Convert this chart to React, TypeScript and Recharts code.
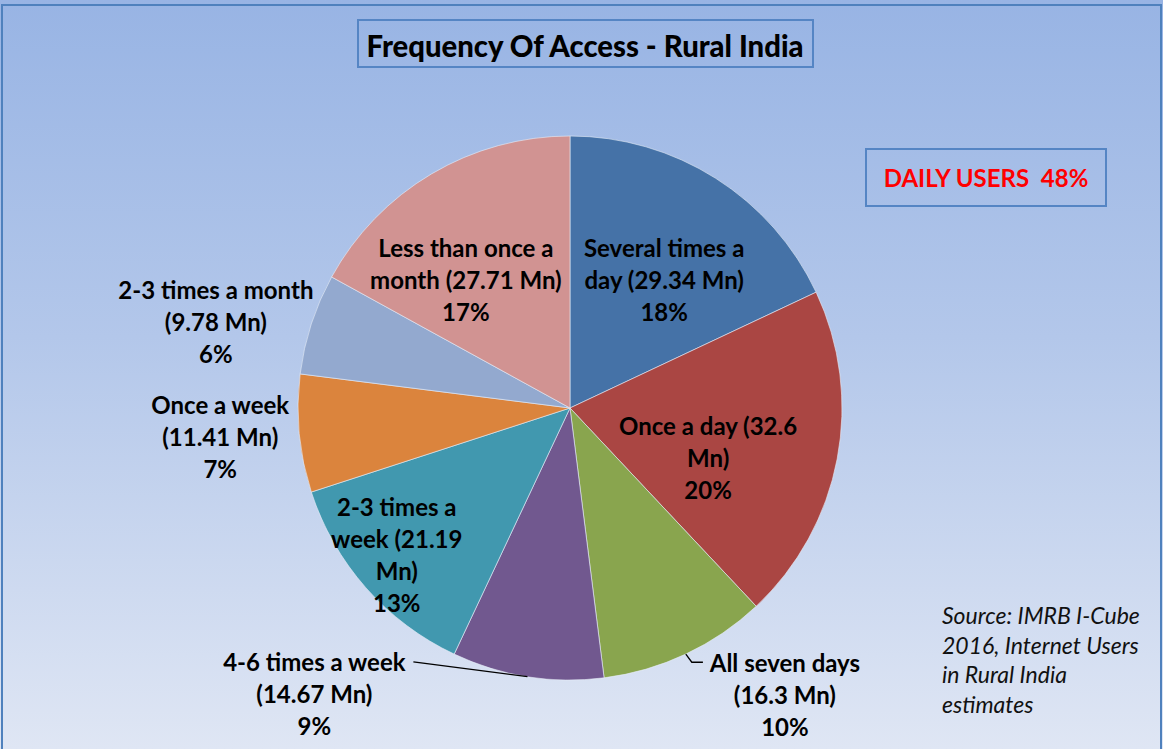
import { PieChart, Pie, Cell } from 'recharts'

// Frequency of internet access, rural India (millions of users)
const categories = [
  'Several times a day',
  'Once a day',
  'All seven days',
  '4-6 times a week',
  '2-3 times a week',
  'Once a week',
  '2-3 times a month',
  'Less than once a month',
]
const usersMn = [29.34, 32.6, 16.3, 14.67, 21.19, 11.41, 9.78, 27.71]
const labelText = [
  ['Several times a', 'day (29.34 Mn)'],
  ['Once a day (32.6', 'Mn)'],
  ['All seven days', '(16.3 Mn)'],
  ['4-6 times a week', '(14.67 Mn)'],
  ['2-3 times a', 'week (21.19', 'Mn)'],
  ['Once a week', '(11.41 Mn)'],
  ['2-3 times a month', '(9.78 Mn)'],
  ['Less than once a', 'month (27.71 Mn)'],
]
const colors = ['#4572a7', '#aa4643', '#89a54e', '#71588f', '#4198af', '#db843d', '#93a9cf', '#d19392']

// label placement (fraction of radius, angle shift in degrees), leader line end offset
const labelRadius = [0.585, 0.54, 1.316, 1.41, 0.835, 1.29, 1.34, 0.607]
const labelShift = [-3.9, -9.1, 11.7, -32.8, -1.1, -0.8, 4.3, 8.5]
const leaderEnd = [0, 0, -82, 99, 0, 0, 0, 0]

const data = categories.map((name, i) => ({ name, value: usersMn[i] }))
const FONT = "Lato, 'Open Sans', sans-serif"
const RAD = Math.PI / 180

function renderLabel(props: any) {
  const { cx, cy, midAngle, outerRadius, index, percent } = props
  const a = (midAngle + labelShift[index]) * RAD
  const r = outerRadius * labelRadius[index]
  const x = cx + r * Math.cos(-a)
  const y = cy + r * Math.sin(-a)
  const lines = [...labelText[index], `${Math.round(percent * 100)}%`]
  const lh = 32
  const y0 = y - ((lines.length - 1) / 2) * lh
  let leader = null
  if (leaderEnd[index] !== 0) {
    const ex = cx + outerRadius * Math.cos(-midAngle * RAD)
    const ey = cy + outerRadius * Math.sin(-midAngle * RAD)
    const tx = x + leaderEnd[index]
    const d = index === 2
      ? `M${ex},${ey} L${ex + 6},${y0} L${tx},${y0}`
      : `M${ex},${ey} L${tx},${y0}`
    leader = <path d={d} fill="none" stroke="#000" strokeWidth={1.3} />
  }
  return (
    <g>
      {leader}
      <text textAnchor="middle" fontFamily={FONT} fontWeight={700} fontSize={24} fill="#000">
        {lines.map((ln, i) => (
          <tspan key={i} x={x} y={y0 + i * lh} dominantBaseline="central">{ln}</tspan>
        ))}
      </text>
    </g>
  )
}

export default function App() {
  return (
    <div style={{
      position: 'absolute', left: 0, top: 0, width: 1163, height: 749, overflow: 'hidden',
      background: 'linear-gradient(to bottom, #98b4e4 0%, #b3c7ea 45%, #dfe6f4 100%)',
    }}>
      <div style={{
        position: 'absolute', left: 1, top: 4, width: 1157, height: 760,
        border: '2px solid #4f81bd',
      }} />
      <div style={{
        position: 'absolute', left: 357, top: 19, width: 453, height: 45,
        border: '2px solid #5585c4',
      }} />
      <svg width={700} height={60} style={{ position: 'absolute', left: 235, top: 15, overflow: 'visible' }}>
        <text x={350} y={30} textAnchor="middle" dominantBaseline="central"
          fontFamily={FONT} fontWeight={900} fontSize={30} fill="#000"
          textLength={437} lengthAdjust="spacingAndGlyphs">
          Frequency Of Access - Rural India
        </text>
      </svg>
      <div style={{
        position: 'absolute', left: 865, top: 148, width: 238, height: 55,
        border: '2px solid #5585c4', display: 'flex', alignItems: 'center', justifyContent: 'center',
        fontFamily: FONT, fontWeight: 700, fontSize: 24, color: '#ff0000', whiteSpace: 'pre',
      }}>
        {'DAILY USERS  48%'}
      </div>
      <div style={{
        position: 'absolute', left: 942, top: 601, width: 220, whiteSpace: 'nowrap',
        fontFamily: FONT, fontStyle: 'italic', fontSize: 23, lineHeight: '29.5px', color: '#111',
      }}>
        Source: IMRB I-Cube<br />2016, Internet Users<br />in Rural India<br />estimates
      </div>
      <div style={{ position: 'absolute', left: 0, top: 0 }}>
        <PieChart width={1163} height={749} margin={{ top: 0, right: 0, bottom: 0, left: 0 }}>
          <Pie
            data={data}
            dataKey="value"
            nameKey="name"
            cx={570}
            cy={408}
            outerRadius={272}
            startAngle={90}
            endAngle={-270}
            stroke="#e8eef8"
            strokeWidth={0.6}
            label={renderLabel}
            labelLine={false}
            isAnimationActive={false}
          >
            {data.map((d, i) => <Cell key={d.name} fill={colors[i]} />)}
          </Pie>
        </PieChart>
      </div>
    </div>
  )
}
